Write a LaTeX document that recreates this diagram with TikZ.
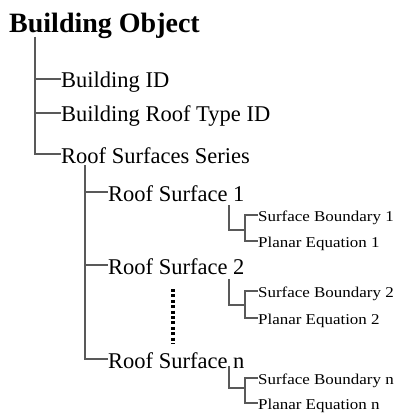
\documentclass[tikz,border=0pt]{standalone}
\usepackage{fontspec}
\setmainfont{Liberation Serif}
\newfontfamily\smallserif[FakeStretch=1.13]{Liberation Serif}
\begin{document}
\begin{tikzpicture}[x=1pt,y=-1pt,
  lvl/.style={anchor=west, inner sep=0pt, font=\fontsize{22.5}{24}\selectfont, text height=18pt, text depth=0pt},
  leaf/.style={anchor=west, inner sep=0pt, font=\smallserif\fontsize{15}{16}\selectfont, text height=12pt, text depth=0pt},
  conn/.style={draw=black!65, line width=1.3pt},
  dots/.style={draw=black, line width=3.5pt, dash pattern=on 3pt off 2.4pt}]
\useasboundingbox (0,0) rectangle (398,414);
\fill[white] (0,0) rectangle (398,414);
% title
\node[anchor=base west, inner sep=0pt, font=\bfseries\fontsize{28}{30}\selectfont] (root) at (9,33) {Building Object};
% level 1
\node[lvl] (bid) at (61,79) {Building ID};
\node[lvl] (brt) at (61,113) {Building Roof Type ID};
\node[lvl] (rss) at (61,154) {Roof Surfaces Series};
\coordinate (v1) at (35,37);
\draw[conn] (v1) |- (bid.west);
\draw[conn] (v1) |- (brt.west);
\draw[conn] (v1) |- (rss.west);
% level 2
\node[lvl] (rs1) at (108,192) {Roof Surface 1};
\node[lvl] (rs2) at (108,265) {Roof Surface 2};
\node[lvl] (rsn) at (108,359) {Roof Surface n};
\coordinate (v2) at (85,165);
\draw[conn] (v2) |- (rs1.west);
\draw[conn] (v2) |- (rs2.west);
\draw[conn] (v2) |- (rsn.west);
\coordinate (d1) at (173,289);
\coordinate (d2) at (173,344);
\draw[dots] (d1) -- (d2);
% level 3, surface 1
\node[leaf] (sb1) at (258,215) {Surface Boundary 1};
\node[leaf] (pe1) at (258,241) {Planar Equation 1};
\coordinate (s1) at (229,205);
\coordinate (j1) at (245,230);
\draw[conn] (s1) |- (j1);
\draw[conn] (j1) |- (sb1.west);
\draw[conn] (j1) |- (pe1.west);
% surface 2
\node[leaf] (sb2) at (258,291) {Surface Boundary 2};
\node[leaf] (pe2) at (258,318) {Planar Equation 2};
\coordinate (s2) at (229,279);
\coordinate (j2) at (245,305);
\draw[conn] (s2) |- (j2);
\draw[conn] (j2) |- (sb2.west);
\draw[conn] (j2) |- (pe2.west);
% surface n
\node[leaf] (sbn) at (258,378) {Surface Boundary n};
\node[leaf] (pen) at (258,403) {Planar Equation n};
\coordinate (sn) at (229,366);
\coordinate (jn) at (245,388);
\draw[conn] (sn) |- (jn);
\draw[conn] (jn) |- (sbn.west);
\draw[conn] (jn) |- (pen.west);
\end{tikzpicture}
\end{document}
